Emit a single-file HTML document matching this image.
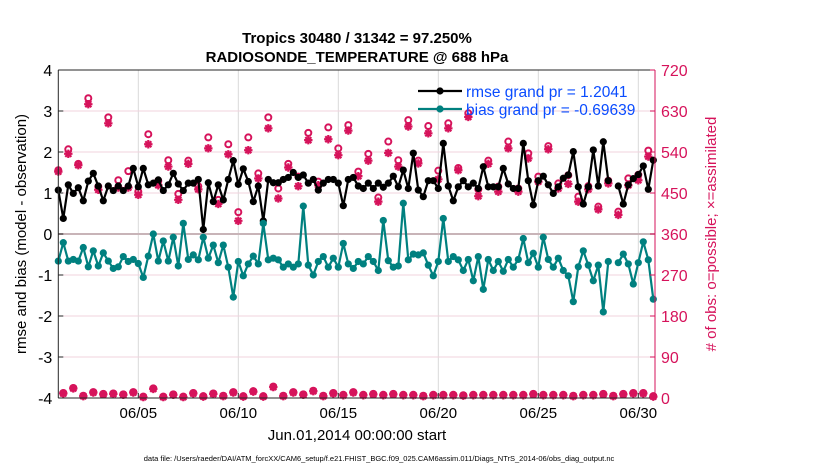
<!DOCTYPE html>
<html><head><meta charset="utf-8"><style>
html,body{margin:0;padding:0;background:#fff;}
svg{display:block;font-family:"Liberation Sans",Arial,sans-serif;}
</style></head><body>
<svg id="chart" width="830" height="470" viewBox="0 0 830 470" xmlns="http://www.w3.org/2000/svg">
<text x="357" y="43" text-anchor="middle" font-size="15" font-weight="bold">Tropics 30480 / 31342 = 97.250%</text>
<text x="357" y="62" text-anchor="middle" font-size="15" font-weight="bold">RADIOSONDE_TEMPERATURE @ 688 hPa</text>
<g id="grid"></g>
<g id="series"></g>
<g id="axes"></g>
<text transform="translate(26,234) rotate(-90)" text-anchor="middle" font-size="15">rmse and bias (model - observation)</text>
<text transform="translate(716,234) rotate(-90)" text-anchor="middle" font-size="15" fill="#d6135b"># of obs: o=possible; ×=assimilated</text>
<text x="357" y="440" text-anchor="middle" font-size="15">Jun.01,2014 00:00:00 start</text>
<text x="379" y="461" text-anchor="middle" font-size="7.5">data file: /Users/raeder/DAI/ATM_forcXX/CAM6_setup/f.e21.FHIST_BGC.f09_025.CAM6assim.011/Diags_NTrS_2014-06/obs_diag_output.nc</text>
</svg>
<script>
const rmse = [1.07,0.38,1.2,0.99,1.13,0.81,1.29,1.48,1.17,0.81, 1.17,1.06,1.17,1.06,1.17,1.60,1.15,1.60,1.2,1.24, 1.32,1.06,1.2,1.48,1.22,1.06,1.24,1.24,1.33,0.11, 1.25,0.79,1.2,0.83,1.33,1.79,1.21,1.59,1.28,0.79,
1.17,0.32,1.33,1.25,1.25,1.33,1.38,1.50,1.38,1.44, 1.24,1.33,1.07,1.24,1.33,1.33,1.24,0.69,1.33,1.38, 1.17,1.11,1.24,1.11,1.24,1.14,1.24,1.41,1.15,1.56, 1.11,1.97,1.07,0.91,1.30,1.30,1.11,2.21,
1.17,0.81,1.15,1.30,1.15,1.24,1.11,1.64,1.15,1.15, 1.15,1.60,1.22,1.11,1.11,2.21,1.30,0.71,1.30,1.41, 1.2,0.99,1.15,1.36,1.44,2.01,1.15,0.73,1.15,2.05, 1.17,2.25,1.30,null,1.17,0.73,1.2,1.35,1.45,1.66, 1.09,1.80];
const bias = [-0.66,-0.21,-0.66,-0.62,-0.66,-0.33,-0.80,-0.41,-0.78,-0.46, -0.66,-0.84,-0.80,-0.55,-0.67,-0.62,-0.72,-1.06,-0.54,0.0, -0.66,-0.17,-0.66,-0.08,-0.78,0.26,-0.62,-0.51,-0.63,-0.08, -0.59,-0.27,-0.70,-0.27,-0.81,-1.54,-0.67,-1.02,-0.73,-0.54,
-0.73,0.26,-0.63,-0.59,-0.63,-0.81,-0.73,-0.81,-0.73,0.68, -0.76,-1.0,-0.67,-0.55,-0.81,-0.59,-0.81,-0.23,-0.73,-0.84, -0.67,-0.73,-0.55,-0.67,-0.89,0.33,-0.65,-0.81,-0.78,0.75, -0.63,-0.49,-0.51,-0.46,-0.76,-1.02,-0.67,0.38,
-0.67,-0.55,-0.63,-0.89,-0.62,-1.14,-0.55,-1.35,-0.62,-0.89, -0.67,-0.91,-0.62,-0.81,-0.62,-0.11,-0.70,-0.47,-0.81,-0.08, -0.62,-0.81,-0.59,-0.89,-1.02,-1.65,-0.80,-0.41,-0.76,-1.14, -0.76,-1.9,-0.67,null,-0.70,-0.49,-0.73,-1.22,-0.70,-0.19, -0.63,-1.59];
const possibleMain = [500,546,514,658,464,616,478,498,453,579, 477,522,448,521,465,572,435,557,408,572, 493,616,460,514,486,582,475,594,548,599, 497,536,440,563,522,610,521,597,499,603, 505,625,458,521,464,563,460,537,486,553, 471,489,442,465,420,477,409,482,490,543];
const assimMain = [497,536,511,645,457,603,462,462,446,557, 467,508,435,514,458,548,426,535,389,544, 482,592,438,506,465,566,467,568,533,587, 487,521,431,538,508,596,515,581,480,592, 500,617,443,514,453,548,453,526,475,546, 460,470,431,458,414,471,402,467,478,530];
const countsOff = [10,21,4,12,8,9,7,12,2,20, 2,7,2,10,3,9,4,12,3,14, 3,24,4,12,7,15,4,10,6,12, 6,8,6,8,6,6,4,6,6,6, 5,6,6,6,6,6,6,8,6,6, 6,4,6,6,8,4,8,10,10,3];
const yTicks = [-4,-3,-2,-1,0,1,2,3,4];
const rTicks = [0,90,180,270,360,450,540,630,720];
const xTickDays = [4,9,14,19,24,29];
const xTickLabels = ["06/05","06/10","06/15","06/20","06/25","06/30"];
const legendLabels = ["rmse grand pr = 1.2041","bias grand pr = -0.69639"];

const NS="http://www.w3.org/2000/svg";
const L=58.3,R=655,T=70,B=398;
const MAG="#d6135b", TEAL="#00807f";
const xScale = d => L + d*20;
const yScale = v => 234 - v*41;
const rScale = c => B - c*(B-T)/720;
function mk(tag, attrs, parent){const e=document.createElementNS(NS,tag);for(const k in attrs)e.setAttribute(k,attrs[k]);parent.appendChild(e);return e;}
const grid=document.getElementById('grid'), ser=document.getElementById('series'), ax=document.getElementById('axes');

xTickDays.forEach((d,i)=>{
  const g=mk('line',{x1:xScale(d),x2:xScale(d),y1:T,y2:B,stroke:"#d9d9d9","stroke-width":1},grid);
  
  
});
rTicks.forEach(c=>{
  if(c===0||c===720) return;
  const g=mk('line',{x1:L,x2:R,y1:rScale(c),y2:rScale(c),stroke:"#f0d3de","stroke-width":1},grid);
  
  
});
const zl=mk('line',{x1:L,x2:R,y1:yScale(0),y2:yScale(0),stroke:"#c8b4b8","stroke-width":2},grid);



function drawLine(arr,color,name){
  let segs=[],cur=[];
  arr.forEach((v,i)=>{ if(v===null){ if(cur.length)segs.push(cur); cur=[]; } else cur.push([xScale(i/4),yScale(v)]); });
  if(cur.length)segs.push(cur);
  const g=mk('g',{},ser);
  
  
  segs.forEach(s=>{ if(s.length>1) mk('polyline',{points:s.map(p=>p.join(',')).join(' '),fill:'none',stroke:color,'stroke-width':2.2,'stroke-linejoin':'round'},g); });
  arr.forEach((v,i)=>{ if(v===null)return;
    const c=mk('circle',{cx:xScale(i/4),cy:yScale(v),r:3.6,fill:color},g);
    
    
  });
}
function star(cx,cy,g){
  const s=4.2, p=mk('path',{d:`M${cx-s},${cy}H${cx+s}M${cx},${cy-s}V${cy+s}M${cx-s*0.72},${cy-s*0.72}L${cx+s*0.72},${cy+s*0.72}M${cx-s*0.72},${cy+s*0.72}L${cx+s*0.72},${cy-s*0.72}`,stroke:MAG,'stroke-width':2.2},g);
  
  
}
function circ(cx,cy,g){
  const c=mk('circle',{cx:cx,cy:cy,r:3,fill:'none',stroke:MAG,'stroke-width':2},g);
  
  
}
const cg=mk('g',{},ser);


possibleMain.forEach((c,i)=>circ(xScale(i/2),rScale(c),cg));
assimMain.forEach((c,i)=>star(xScale(i/2),rScale(c),cg));
countsOff.forEach((c,i)=>{circ(xScale((2*i+1)/4),rScale(c+1),cg); star(xScale((2*i+1)/4),rScale(c),cg);});
drawLine(rmse,'#000','rmse-series');
drawLine(bias,TEAL,'bias-series');

[[0,'#000'],[1,TEAL]].forEach(([i,col])=>{
  const y=91+i*18;
  const g=mk('g',{},ser);
  
  
  mk('line',{x1:418,x2:462,y1:y,y2:y,stroke:col,'stroke-width':2.2},g);
  mk('circle',{cx:440,cy:y,r:3.6,fill:col},g);
  const t=mk('text',{x:466,y:y+6,'font-size':15.5,fill:'#0a4cff'},g);
  t.textContent=legendLabels[i];
});

mk('line',{x1:L,x2:R,y1:T,y2:T,stroke:'#262626','stroke-width':1},ax);
mk('line',{x1:L,x2:R,y1:B,y2:B,stroke:'#262626','stroke-width':1},ax);
mk('line',{x1:L,x2:L,y1:T,y2:B,stroke:'#262626','stroke-width':1},ax);
mk('line',{x1:R,x2:R,y1:T,y2:B,stroke:MAG,'stroke-width':1},ax);
yTicks.forEach(v=>{
  mk('line',{x1:L,x2:L+5,y1:yScale(v),y2:yScale(v),stroke:'#262626'},ax);
  const t=mk('text',{x:L-6,y:yScale(v)+6,'text-anchor':'end','font-size':16},ax);
  
  
  t.textContent=v;
});
rTicks.forEach(c=>{
  mk('line',{x1:R-5,x2:R,y1:rScale(c),y2:rScale(c),stroke:MAG},ax);
  const t=mk('text',{x:R+6,y:rScale(c)+6,'font-size':16,fill:MAG},ax);
  
  
  t.textContent=c;
});
xTickDays.forEach((d,i)=>{
  mk('line',{x1:xScale(d),x2:xScale(d),y1:B,y2:B-5,stroke:'#262626'},ax);
  const t=mk('text',{x:xScale(d),y:B+20,'text-anchor':'middle','font-size':15},ax);
  
  
  t.textContent=xTickLabels[i];
});
</script>
</body></html>
